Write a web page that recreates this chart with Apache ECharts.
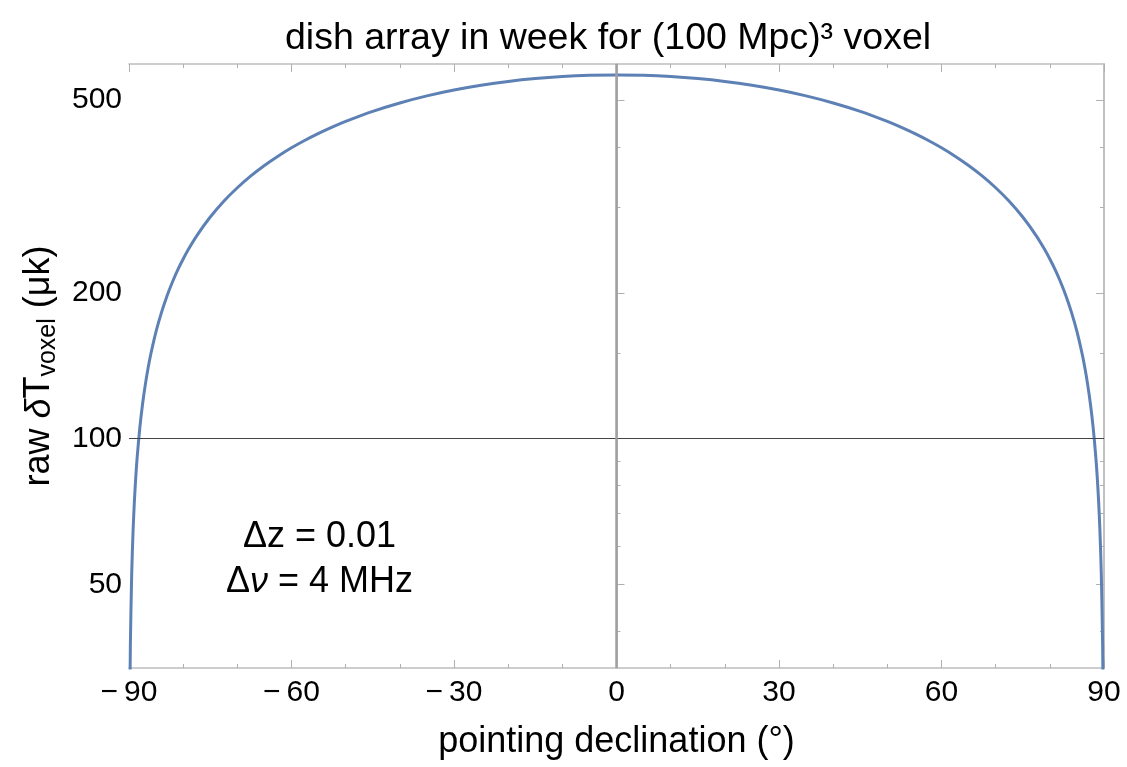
<!DOCTYPE html>
<html>
<head>
<meta charset="utf-8">
<script src="https://cdn.jsdelivr.net/npm/echarts@6/dist/echarts.min.js"></script>
<style>
  html, body { margin: 0; padding: 0; background: #ffffff; }
  #chart { width: 1127px; height: 767px; }
</style>
</head>
<body>
<div id="chart"></div>
<script>
// pointing declination (degrees)
const declination = [
  -89.9, -89.75, -89.5, -89.25, -89, -88.75, -88.5, -88, -87.5, -87, -86.5, -86, -85, -84, -83, -82, -81, -80, -79,
  -77.5, -75, -72.5, -70, -67.5, -65, -62.5, -60, -57.5, -55, -52.5, -50, -45, -40, -35, -30, -25, -20, -15, -10, -5,
  0,
  5, 10, 15, 20, 25, 30, 35, 40, 45, 50, 52.5, 55, 57.5, 60, 62.5, 65, 67.5, 70, 72.5, 75, 77.5,
  79, 80, 81, 82, 83, 84, 85, 86, 86.5, 87, 87.5, 88, 88.5, 88.75, 89, 89.25, 89.5, 89.75, 89.9
];
// raw voxel temperature noise (µK)
const deltaT = [
  23.6, 37.3, 52.7, 64.5, 74.5, 83.3, 91.3, 105.4, 117.8, 129.0, 139.4, 149.0, 166.5, 182.3, 196.9, 210.4, 223.1, 235.0, 246.4,
  262.4, 286.9, 309.3, 329.8, 348.9, 366.7, 383.2, 398.8, 413.4, 427.1, 440.1, 452.2, 474.3, 493.6, 510.5, 524.9, 536.9, 546.7, 554.3, 559.7, 562.9,
  564.0,
  562.9, 559.7, 554.3, 546.7, 536.9, 524.9, 510.5, 493.6, 474.3, 452.2, 440.1, 427.1, 413.4, 398.8, 383.2, 366.7, 348.9, 329.8, 309.3, 286.9, 262.4,
  246.4, 235.0, 223.1, 210.4, 196.9, 182.3, 166.5, 149.0, 139.4, 129.0, 117.8, 105.4, 91.3, 83.3, 74.5, 64.5, 52.7, 37.3, 23.6
];
const yLabelTicks = [50, 100, 200, 500];
const yMinorTicks = [40, 60, 70, 80, 90, 150, 300, 400];
const yRange = [33.6, 594];
const xRange = [-90, 90];

const FONT = 'Liberation Sans, Arial, sans-serif';
const FRAME = '#bdbdbd';
const TICK = '#b0b0b0';

const chart = echarts.init(document.getElementById('chart'), null, { renderer: 'canvas' });

function xAxisDef(pos, labels) {
  return {
    type: 'value', position: pos, min: xRange[0], max: xRange[1], interval: 30,
    axisLine: { show: true, lineStyle: { color: FRAME, width: 1.5 } },
    axisTick: { show: true, inside: true, length: 8, lineStyle: { color: TICK, width: 1 } },
    minorTick: { show: true, splitNumber: 3, length: 4, lineStyle: { color: TICK, width: 1 } },
    splitLine: { show: false },
    axisLabel: {
      show: labels, color: '#000', fontFamily: FONT, fontSize: 30, margin: 10,
      formatter: v => (v < 0 ? '\u2212\u2009' + Math.abs(v) : String(v))
    },
    name: labels ? 'pointing declination (°)' : '',
    nameLocation: 'middle', nameGap: 56,
    nameTextStyle: { color: '#000', fontFamily: FONT, fontSize: 36 }
  };
}

function yAxisDef(pos, ticks, len, labels) {
  return {
    type: 'log', logBase: 10, position: pos, min: yRange[0], max: yRange[1],
    axisLine: { show: true, lineStyle: { color: FRAME, width: 1.5 } },
    axisTick: { show: true, inside: true, length: len, customValues: ticks, lineStyle: { color: TICK, width: 1 } },
    splitLine: { show: false },
    axisLabel: {
      show: labels, customValues: yLabelTicks, color: '#000', fontFamily: FONT, fontSize: 30, margin: 7
    },
    name: labels ? 'raw {d|δ}T{sub|voxel} (μk)' : '',
    nameLocation: 'middle', nameGap: 64, nameRotate: 90,
    nameTextStyle: {
      color: '#000', fontFamily: FONT, fontSize: 36,
      rich: {
        d: { fontFamily: FONT, fontSize: 36, fontStyle: 'italic', color: '#000' },
        sub: { fontFamily: FONT, fontSize: 25, color: '#000', padding: [18, 0, 0, 0] }
      }
    }
  };
}

const option = {
  backgroundColor: '#ffffff',
  animation: false,
  title: {
    text: 'dish array in week for (100 Mpc)\u00b3 voxel',
    left: 280, top: 15,
    textStyle: { color: '#000', fontFamily: FONT, fontSize: 37.5, fontWeight: 'normal' }
  },
  grid: { left: 129, right: 23, top: 64, bottom: 99, containLabel: false },
  xAxis: [xAxisDef('bottom', true), xAxisDef('top', false)],
  yAxis: [
    yAxisDef('left', yLabelTicks, 8, true),
    yAxisDef('left', yMinorTicks, 4, false),
    yAxisDef('right', yLabelTicks, 8, false),
    yAxisDef('right', yMinorTicks, 4, false)
  ],
  graphic: [
    {
      type: 'text', left: 243, top: 519, z: 10,
      style: { text: 'Δz = 0.01', fill: '#000', font: '36px ' + FONT }
    },
    {
      type: 'text', left: 226, top: 564, z: 10,
      style: {
        text: 'Δ{v|ν} = 4 MHz', fill: '#000', font: '36px ' + FONT,
        rich: { v: { fontStyle: 'italic', fontSize: 36, fontFamily: FONT, fill: '#000' } }
      }
    }
  ],
  series: [
    {
      // reference axes through (0, 100)
      type: 'line', data: [], z: 1, silent: true,
      markLine: {
        silent: true, symbol: 'none', label: { show: false }, animation: false,
        data: [
          { yAxis: 100, lineStyle: { color: '#444', width: 1.2, type: 'solid' } },
          { xAxis: 0, lineStyle: { color: '#a0a0a0', width: 2.5, type: 'solid' } }
        ]
      }
    },
    {
      type: 'line', z: 3,
      data: declination.map((d, i) => [d, deltaT[i]]),
      showSymbol: false, smooth: 0.25, clip: true,
      lineStyle: { color: '#5e81b5', width: 3 }
    }
  ]
};
chart.setOption(option);
</script>
</body>
</html>
